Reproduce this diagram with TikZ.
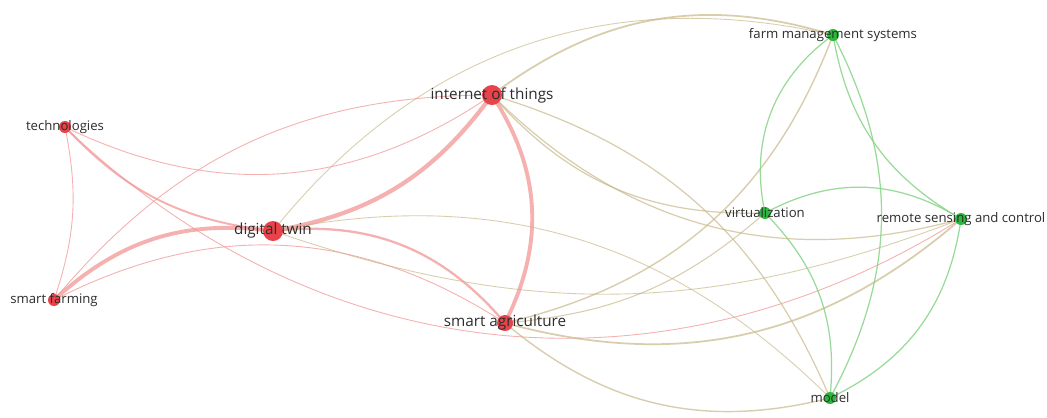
\documentclass[tikz,border=0pt]{standalone}
\usepackage{fontspec}
\setmainfont{Open Sans}
\usepackage{xcolor}
\usepackage{tikz}
\usetikzlibrary{backgrounds}

\definecolor{nodered}{RGB}{232,66,74}
\definecolor{nodegreen}{RGB}{44,184,62}
\definecolor{linkred}{RGB}{242,150,150}
\definecolor{linkgreen}{RGB}{135,212,135}
\definecolor{linkmix}{RGB}{196,180,130}
\definecolor{labelgray}{RGB}{45,45,45}

\tikzset{
	redpt/.style={circle, fill=nodered, draw=none, inner sep=0pt, minimum size=#1},
	greenpt/.style={circle, fill=nodegreen, draw=none, inner sep=0pt, minimum size=0.24cm},
	lbl/.style={text=labelgray, inner sep=0pt, font=\fontsize{7.5}{9}\selectfont},
	biglbl/.style={text=labelgray, inner sep=0pt, font=\fontsize{8.7}{10}\selectfont},
	rr/.style={draw=linkred, opacity=0.75, line width=#1},
	rg/.style={draw=linkmix, opacity=0.65, line width=#1},
	gg/.style={draw=linkgreen, opacity=0.85, line width=0.7pt}
}

\begin{document}
\begin{tikzpicture}[x=0.02cm, y=-0.02cm]
		\useasboundingbox (0,0) rectangle (1047,417);
		% Nodes:
		\node[redpt=0.24cm] (tech) at (65,127){};
		\node[redpt=0.24cm] (sfarm) at (54,300){};
		\node[redpt=0.4cm] (dtwin) at (273,231){};
		\node[redpt=0.4cm] (iot) at (492,95){};
		\node[redpt=0.32cm] (sagri) at (505,323){};
		\node[greenpt] (fms) at (833,35){};
		\node[greenpt] (virt) at (765,213){};
		\node[greenpt] (rsc) at (961,219){};
		\node[greenpt] (model) at (830,398){};
		% Labels:
		\node[lbl] (techlbl) at (tech){technologies};
		\node[lbl] (sfarmlbl) at (sfarm){smart farming};
		\node[biglbl] (dtwinlbl) at (dtwin){digital twin};
		\node[biglbl] (iotlbl) at (iot){internet of things};
		\node[biglbl] (sagrilbl) at (sagri){smart agriculture};
		\node[lbl] (fmslbl) at (fms){farm management systems};
		\node[lbl] (virtlbl) at (virt){virtualization};
		\node[lbl] (rsclbl) at (rsc){remote sensing and control};
		\node[lbl] (modellbl) at (model){model};
		% Links:
		\begin{pgfonlayer}{background}
		\fill[white] (0,0) rectangle (1047,417);
		\draw[rr=0.5pt] (tech.center) to[bend left=15] (sfarm.center);
		\draw[rr=1.1pt] (tech.center) to[bend right=20] (dtwin.center);
		\draw[rr=0.5pt] (tech.center) to[bend right=30] (iot.center);
		\draw[rr=0.5pt] (tech.center) to[bend right=38] (rsc.center);
		\draw[rr=2.2pt] (sfarm.center) to[bend left=25] (dtwin.center);
		\draw[rr=0.5pt] (sfarm.center) to[bend left=25] (iot.center);
		\draw[rr=0.5pt] (sfarm.center) to[bend left=30] (sagri.center);
		\draw[rr=2.4pt] (dtwin.center) to[bend right=22] (iot.center);
		\draw[rr=1.3pt] (dtwin.center) to[bend left=28] (sagri.center);
		\draw[rr=2.2pt] (iot.center) to[bend left=30] (sagri.center);
		\draw[rg=0.5pt] (dtwin.center) to[bend left=32] (fms.center);
		\draw[rg=0.5pt] (dtwin.center) to[bend left=28] (model.center);
		\draw[rg=0.5pt] (dtwin.center) to[bend right=20] (rsc.center);
		\draw[rg=1pt] (iot.center) to[bend left=27] (fms.center);
		\draw[rg=0.7pt] (iot.center) to[bend right=25] (virt.center);
		\draw[rg=0.7pt] (iot.center) to[bend right=30] (rsc.center);
		\draw[rg=0.7pt] (iot.center) to[bend left=25] (model.center);
		\draw[rg=0.8pt] (sagri.center) to[bend right=28] (fms.center);
		\draw[rg=0.6pt] (sagri.center) to[bend right=18] (virt.center);
		\draw[rg=1pt] (sagri.center) to[bend right=28] (rsc.center);
		\draw[rg=0.8pt] (sagri.center) to[bend right=27] (model.center);
		\draw[gg] (fms.center) to[bend right=33] (virt.center);
		\draw[gg] (fms.center) to[bend left=28] (model.center);
		\draw[gg] (fms.center) to[bend right=25] (rsc.center);
		\draw[gg] (virt.center) to[bend left=30] (rsc.center);
		\draw[gg] (virt.center) to[bend left=25] (model.center);
		\draw[gg] (rsc.center) to[bend left=28] (model.center);
		\end{pgfonlayer}
	\end{tikzpicture}
\end{document}
